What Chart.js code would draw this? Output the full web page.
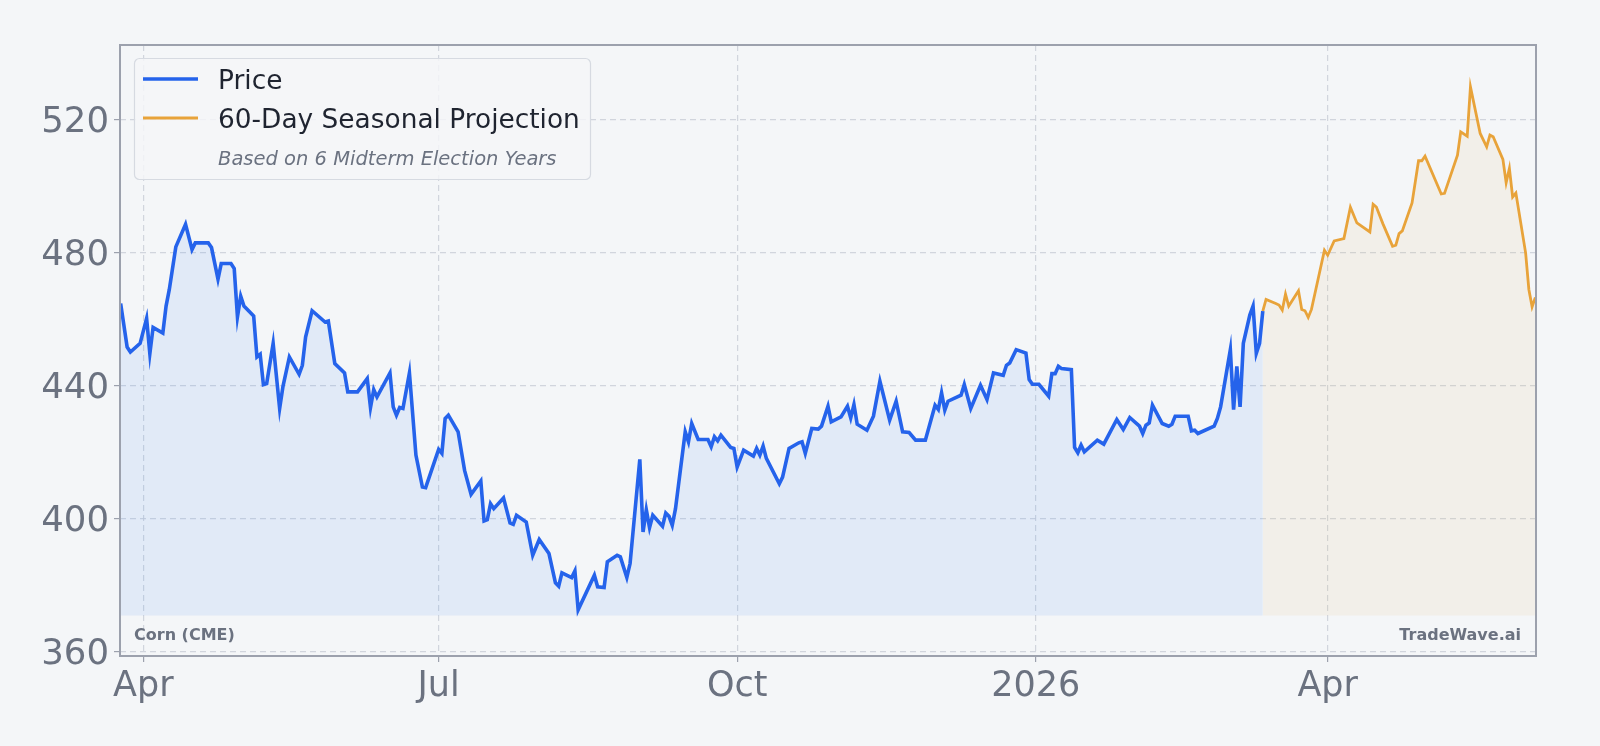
<!DOCTYPE html>
<html>
<head>
<meta charset="utf-8">
<script src="https://cdn.jsdelivr.net/npm/chart.js@4/dist/chart.umd.min.js"></script>
<style>
  html, body { margin: 0; padding: 0; background: #f4f6f8; }
  #wrap { width: 1600px; height: 746px; }
</style>
</head>
<body>
<div id="wrap"><canvas id="chart" width="1600" height="746"></canvas></div>
<script>
'use strict';

// ---- data ----
const priceDates = [
  '2025-03-25','2025-03-27','2025-03-28','2025-03-31','2025-04-02','2025-04-03','2025-04-04','2025-04-07','2025-04-08','2025-04-09',
  '2025-04-11','2025-04-14','2025-04-16','2025-04-17','2025-04-21','2025-04-22','2025-04-24','2025-04-25','2025-04-28','2025-04-29',
  '2025-04-30','2025-05-01','2025-05-02','2025-05-05','2025-05-06','2025-05-07','2025-05-08','2025-05-09','2025-05-11','2025-05-13',
  '2025-05-14','2025-05-16','2025-05-19','2025-05-20','2025-05-21','2025-05-23','2025-05-27','2025-05-28','2025-05-30','2025-06-02',
  '2025-06-03','2025-06-06','2025-06-09','2025-06-10','2025-06-11','2025-06-12','2025-06-16','2025-06-17','2025-06-18','2025-06-19',
  '2025-06-20','2025-06-22','2025-06-24','2025-06-26','2025-06-27','2025-07-01','2025-07-02','2025-07-03','2025-07-04','2025-07-07',
  '2025-07-09','2025-07-11','2025-07-14','2025-07-15','2025-07-16','2025-07-17','2025-07-18','2025-07-21','2025-07-23','2025-07-24',
  '2025-07-25','2025-07-28','2025-07-30','2025-08-01','2025-08-04','2025-08-06','2025-08-07','2025-08-08','2025-08-11','2025-08-12',
  '2025-08-13','2025-08-18','2025-08-19','2025-08-21','2025-08-22','2025-08-25','2025-08-26','2025-08-28','2025-08-29','2025-09-01',
  '2025-09-02','2025-09-03','2025-09-04','2025-09-05','2025-09-08','2025-09-09','2025-09-10','2025-09-11','2025-09-12','2025-09-15',
  '2025-09-16','2025-09-17','2025-09-19','2025-09-22','2025-09-23','2025-09-24','2025-09-25','2025-09-26','2025-09-29','2025-09-30',
  '2025-10-01','2025-10-03','2025-10-06','2025-10-07','2025-10-08','2025-10-09','2025-10-10','2025-10-14','2025-10-15','2025-10-17',
  '2025-10-20','2025-10-21','2025-10-22','2025-10-24','2025-10-26','2025-10-27','2025-10-29','2025-10-30','2025-11-02','2025-11-04',
  '2025-11-05','2025-11-06','2025-11-07','2025-11-10','2025-11-12','2025-11-14','2025-11-17','2025-11-19','2025-11-21','2025-11-23',
  '2025-11-25','2025-11-28','2025-12-01','2025-12-02','2025-12-03','2025-12-04','2025-12-05','2025-12-09','2025-12-10','2025-12-12',
  '2025-12-15','2025-12-17','2025-12-19','2025-12-22','2025-12-23','2025-12-24','2025-12-26','2025-12-29','2025-12-30','2025-12-31',
  '2026-01-02','2026-01-05','2026-01-06','2026-01-07','2026-01-08','2026-01-09','2026-01-12','2026-01-13','2026-01-14','2026-01-15',
  '2026-01-16','2026-01-20','2026-01-22','2026-01-26','2026-01-28','2026-01-30','2026-02-02','2026-02-03','2026-02-04','2026-02-05',
  '2026-02-06','2026-02-09','2026-02-11','2026-02-12','2026-02-13','2026-02-17','2026-02-18','2026-02-19','2026-02-20','2026-02-25',
  '2026-02-26','2026-02-27','2026-03-02','2026-03-03','2026-03-04','2026-03-05','2026-03-06','2026-03-08','2026-03-09','2026-03-10',
  '2026-03-11','2026-03-12'
];
const priceValues = [
  464.8, 451.7, 450.2, 452.8, 460.3, 449.7, 457.6, 455.9, 464.0, 469.0,
  481.8, 488.6, 481.0, 483.0, 483.0, 481.6, 472.1, 476.8, 476.8, 475.3,
  460.8, 467.0, 464.0, 461.0, 448.7, 449.5, 440.4, 440.7, 452.8, 433.2,
  439.7, 448.7, 443.5, 446.2, 454.7, 462.6, 459.2, 459.5, 446.7, 443.9,
  438.2, 438.2, 442.2, 433.5, 438.9, 436.7, 443.9, 433.7, 431.2, 433.5,
  433.2, 443.9, 419.2, 409.6, 409.4, 420.9, 419.7, 430.2, 431.2, 426.2,
  414.6, 407.4, 411.4, 399.4, 399.8, 404.6, 403.1, 406.3, 398.8, 398.4,
  401.1, 399.1, 389.1, 393.8, 389.6, 380.8, 379.8, 383.8, 382.4, 384.4,
  372.7, 383.1, 379.6, 379.4, 387.1, 389.1, 388.6, 382.4, 386.6, 417.9,
  396.1, 402.8, 397.4, 401.1, 397.8, 401.8, 400.8, 398.1, 403.1, 426.2,
  423.2, 428.7, 423.9, 423.9, 421.7, 424.7, 423.5, 425.2, 421.5, 421.2,
  415.6, 420.7, 418.9, 421.2, 419.2, 421.9, 418.2, 410.6, 412.6, 421.2,
  422.9, 423.2, 419.7, 427.2, 427.0, 427.9, 433.9, 429.2, 430.7, 433.9,
  430.4, 434.4, 428.5, 426.7, 430.9, 441.4, 429.7, 435.4, 426.2, 426.0,
  423.7, 423.7, 434.2, 432.9, 437.9, 432.7, 435.4, 437.2, 440.4, 433.2,
  440.2, 435.9, 443.9, 443.2, 446.2, 446.9, 450.9, 449.9, 441.9, 440.5,
  440.5, 436.9, 443.7, 443.7, 445.9, 445.2, 444.9, 421.5, 419.9, 422.2,
  420.2, 423.7, 422.5, 429.9, 426.9, 430.5, 427.9, 425.7, 428.2, 428.9,
  434.2, 428.7, 427.9, 428.5, 430.9, 430.9, 426.5, 426.7, 425.7, 427.9,
  430.2, 433.7, 450.9, 432.9, 445.9, 433.7, 452.8, 461.3, 464.0, 449.8,
  452.8, 462.5
];

const projDates = [
  '2026-03-12','2026-03-13','2026-03-16','2026-03-17','2026-03-18','2026-03-19','2026-03-20','2026-03-23','2026-03-24','2026-03-25',
  '2026-03-26','2026-03-27','2026-03-31','2026-04-01','2026-04-03','2026-04-06','2026-04-08','2026-04-10','2026-04-14','2026-04-15',
  '2026-04-16','2026-04-18','2026-04-21','2026-04-22','2026-04-23','2026-04-24','2026-04-27','2026-04-29','2026-04-30','2026-05-01',
  '2026-05-06','2026-05-07','2026-05-11','2026-05-12','2026-05-14','2026-05-15','2026-05-18','2026-05-20','2026-05-21','2026-05-22',
  '2026-05-25','2026-05-26','2026-05-27','2026-05-28','2026-05-29','2026-06-01','2026-06-02','2026-06-03','2026-06-04'
];
const projValues = [
  462.5, 466.0, 464.8, 464.3, 462.8, 467.6, 464.0, 468.6, 463.0, 462.6,
  460.6, 463.0, 480.8, 479.3, 483.6, 484.3, 493.7, 489.0, 486.3, 494.6,
  493.8, 488.8, 482.0, 482.3, 485.8, 486.6, 495.0, 507.7, 507.7, 509.1,
  497.7, 497.9, 509.4, 516.4, 515.1, 529.9, 515.9, 511.9, 515.4, 514.9,
  508.1, 501.1, 505.4, 496.8, 498.0, 480.0, 469.0, 463.8, 466.6
];

const xTickDates = ['2025-04-01', '2025-07-01', '2025-10-01', '2026-01-01', '2026-04-01'];
const xTickLabels = ['Apr', 'Jul', 'Oct', '2026', 'Apr'];
const yTicks = [360, 400, 440, 480, 520];
const fillFloor = 371;

// days since 2025-04-01
const BASE = Date.parse('2025-04-01');
function dayOf(s){ return (Date.parse(s) - BASE) / 864e5; }

const pricePoints = priceDates.map((d, i) => ({x: dayOf(d), y: priceValues[i]}));
const projPoints = projDates.map((d, i) => ({x: dayOf(d), y: projValues[i]}));
const xTicks = xTickDates.map(dayOf);

const FONT = "'DejaVu Sans', sans-serif";
const GRID = 'rgba(200,205,214,0.8)';
const SPINE = '#9ca1ad';
const TICKTXT = '#6b7280';

// frame, custom legend and corner labels
const decor = {
  id: 'decor',
  afterDraw(chart){
    const ctx = chart.ctx;
    const a = chart.chartArea;
    ctx.save();
    // all four spines
    ctx.strokeStyle = SPINE;
    ctx.lineWidth = 2;
    ctx.strokeRect(a.left, a.top, a.right - a.left, a.bottom - a.top);

    // legend box
    ctx.beginPath();
    ctx.roundRect(134.5, 58.5, 456, 121, 5);
    ctx.fillStyle = 'rgba(245,246,248,0.85)';
    ctx.fill();
    ctx.strokeStyle = '#d6dae1';
    ctx.lineWidth = 1.2;
    ctx.stroke();

    ctx.lineCap = 'butt';
    ctx.strokeStyle = '#2563eb';
    ctx.lineWidth = 3.6;
    ctx.beginPath(); ctx.moveTo(143, 79); ctx.lineTo(198, 79); ctx.stroke();
    ctx.strokeStyle = '#e8a33a';
    ctx.lineWidth = 2.8;
    ctx.beginPath(); ctx.moveTo(143, 118); ctx.lineTo(198, 118); ctx.stroke();

    ctx.textBaseline = 'middle';
    ctx.textAlign = 'left';
    ctx.fillStyle = '#1f2430';
    ctx.font = '26.4px ' + FONT;
    ctx.fillText('Price', 218, 82);
    ctx.fillText('60-Day Seasonal Projection', 218, 121);
    ctx.fillStyle = '#6b7280';
    ctx.font = 'italic 19.5px ' + FONT;
    ctx.fillText('Based on 6 Midterm Election Years', 218, 160);

    // corner labels
    ctx.font = 'bold 16px ' + FONT;
    ctx.fillStyle = '#6b7280';
    ctx.fillText('Corn (CME)', a.left + 14, 636);
    ctx.textAlign = 'right';
    ctx.fillText('TradeWave.ai', a.right - 15, 636);
    ctx.restore();
  }
};

new Chart(document.getElementById('chart'), {
  type: 'line',
  data: {
    datasets: [
      {
        label: 'Price',
        data: pricePoints,
        borderColor: '#2563eb',
        borderWidth: 3.6,
        backgroundColor: 'rgba(59,130,246,0.1)',
        fill: {value: fillFloor},
        pointRadius: 0,
        tension: 0
      },
      {
        label: '60-Day Seasonal Projection',
        data: projPoints,
        borderColor: '#e8a33a',
        borderWidth: 2.8,
        backgroundColor: 'rgba(232,163,58,0.08)',
        fill: {value: fillFloor},
        pointRadius: 0,
        tension: 0
      }
    ]
  },
  options: {
    responsive: false,
    animation: false,
    layout: {padding: {left: 0, right: 64, top: 45, bottom: 0}},
    plugins: {legend: {display: false}, tooltip: {enabled: false}},
    scales: {
      x: {
        type: 'linear',
        min: -7.2,
        max: 429.2,
        afterBuildTicks(scale){ scale.ticks = xTicks.map(v => ({value: v})); },
        afterFit(scale){ scale.height = 90; },
        ticks: {
          autoSkip: false,
          maxRotation: 0,
          padding: 4,
          color: TICKTXT,
          font: {family: FONT, size: 35},
          callback(v){ const i = xTicks.indexOf(v); return i >= 0 ? xTickLabels[i] : ''; }
        },
        grid: {color: GRID, lineWidth: 1.2, tickLength: 6, tickColor: SPINE, tickBorderDash: []},
        border: {display: false, dash: [6, 4]}
      },
      y: {
        min: 358.8,
        max: 542.5,
        afterBuildTicks(scale){ scale.ticks = yTicks.map(v => ({value: v})); },
        afterFit(scale){ scale.width = 120; },
        ticks: {
          padding: 5,
          labelOffset: 3,
          color: TICKTXT,
          font: {family: FONT, size: 35.5}
        },
        grid: {color: GRID, lineWidth: 1.2, tickLength: 6, tickColor: SPINE, tickBorderDash: []},
        border: {display: false, dash: [6, 4]}
      }
    }
  },
  plugins: [decor]
});
</script>
</body>
</html>
